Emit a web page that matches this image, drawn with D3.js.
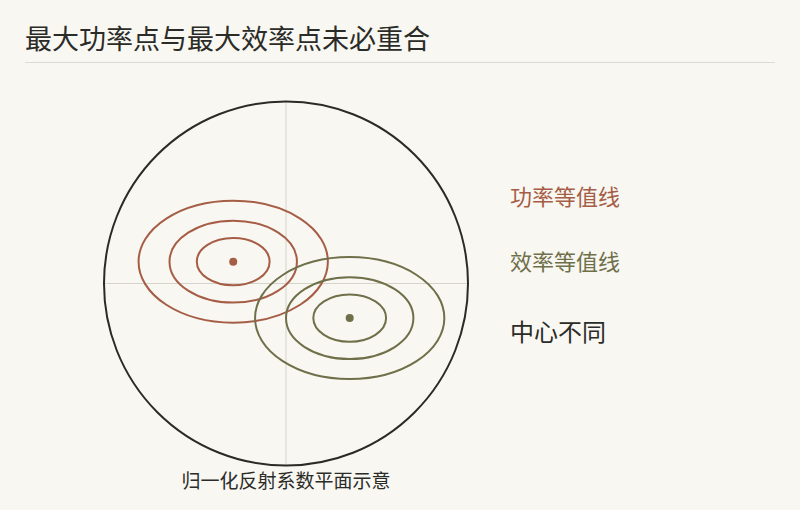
<!DOCTYPE html>
<html>
<head>
<meta charset="utf-8">
<script src="https://cdn.jsdelivr.net/npm/d3@7"></script>
<style>
  html, body { margin: 0; padding: 0; background: #f8f7f2; }
  svg { display: block; font-family: "Noto Sans CJK SC", "Noto Sans", sans-serif; }
</style>
</head>
<body>
<script>
// normalized reflection-coefficient plane, unit circle = |Γ| = 1
const title = "最大功率点与最大效率点未必重合";
const planeLabel = "归一化反射系数平面示意";
const seriesNames = ["功率等值线", "效率等值线"];
const seriesColors = ["#a65d45", "#6f7049"];
const centersX = [-0.29, 0.35];
const centersY = [0.12, -0.19];
const ringRx = [0.2, 0.35, 0.52];
const ringRy = [0.13, 0.225, 0.335];
const noteText = "中心不同";

const width = 800, height = 510;
const cx = 286, cy = 283.5, R = 182;

const svg = d3.select("body").append("svg")
  .attr("width", width).attr("height", height);

svg.append("rect").attr("width", width).attr("height", height).attr("fill", "#f8f7f2");

svg.append("text")
  .attr("x", 25).attr("y", 49)
  .attr("font-size", 27)
  .attr("fill", "#2b2b28")
  .text(title);

svg.append("line")
  .attr("x1", 25).attr("x2", 775)
  .attr("y1", 62.5).attr("y2", 62.5)
  .attr("stroke", "#dcdad4").attr("stroke-width", 1);

const x = d3.scaleLinear().domain([-1, 1]).range([cx - R, cx + R]);
const y = d3.scaleLinear().domain([-1, 1]).range([cy + R, cy - R]);
const kx = d3.scaleLinear().domain([0, 1]).range([0, R]);

const plane = svg.append("g");

// axes cross
plane.append("line")
  .attr("x1", x(-1)).attr("x2", x(1)).attr("y1", y(0)).attr("y2", y(0))
  .attr("stroke", "#d6d3cb").attr("stroke-width", 1);
plane.append("line")
  .attr("x1", x(0)).attr("x2", x(0)).attr("y1", y(1)).attr("y2", y(-1))
  .attr("stroke", "#d6d3cb").attr("stroke-width", 1);

// unit circle
plane.append("circle")
  .attr("cx", x(0)).attr("cy", y(0)).attr("r", kx(1))
  .attr("fill", "none").attr("stroke", "#2b2a26").attr("stroke-width", 2);

const series = seriesNames.map((name, i) => ({
  name, color: seriesColors[i], x: centersX[i], y: centersY[i]
}));

const groups = plane.selectAll("g.series")
  .data(series)
  .enter()
  .append("g")
  .attr("class", "series");

groups.selectAll("ellipse")
  .data(d => ringRx.map((rx, j) => ({ rx, ry: ringRy[j], s: d })))
  .enter()
  .append("ellipse")
  .attr("cx", d => x(d.s.x))
  .attr("cy", d => y(d.s.y))
  .attr("rx", d => kx(d.rx))
  .attr("ry", d => kx(d.ry))
  .attr("fill", "none")
  .attr("stroke", d => d.s.color)
  .attr("stroke-width", 2);

groups.append("circle")
  .attr("cx", d => x(d.x))
  .attr("cy", d => y(d.y))
  .attr("r", 4)
  .attr("fill", d => d.color);

svg.append("text")
  .attr("x", x(0)).attr("y", 488)
  .attr("text-anchor", "middle")
  .attr("font-size", 19)
  .attr("fill", "#2b2b28")
  .text(planeLabel);

// right-hand labels
svg.selectAll("text.legend")
  .data(series)
  .enter()
  .append("text")
  .attr("class", "legend")
  .attr("x", 510)
  .attr("y", (d, i) => 205 + i * 65)
  .attr("font-size", 22)
  .attr("fill", d => d.color)
  .text(d => d.name);

svg.append("text")
  .attr("x", 510).attr("y", 341)
  .attr("font-size", 24)
  .attr("fill", "#2b2b28")
  .text(noteText);
</script>
</body>
</html>
